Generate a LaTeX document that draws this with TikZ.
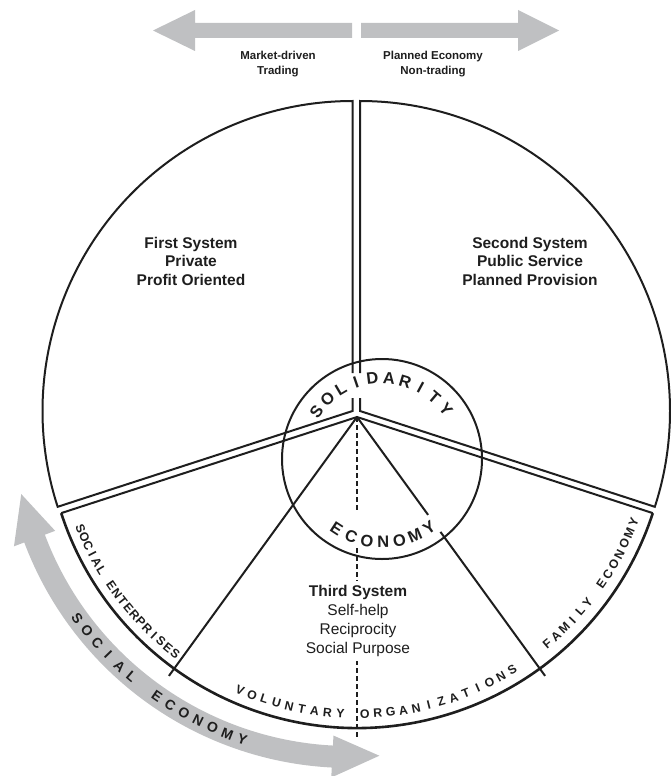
\documentclass[tikz,border=0pt]{standalone}
\usepackage{fontspec}
\setmainfont{Liberation Sans}
\usetikzlibrary{calc}
\definecolor{arrowgray}{RGB}{191,192,194}
\definecolor{ink}{RGB}{30,30,30}
\begin{document}
\begin{tikzpicture}[x=1pt,y=1pt,
  wedge/.style={draw=ink, line width=2pt, line join=miter},
  dashline/.style={draw=ink, line width=1.6pt, dash pattern=on 5pt off 3pt},
  arcletter/.style={inner sep=0pt, text=ink, font=\bfseries\fontsize{16.5}{16.5}\selectfont},
  rimletter/.style={inner sep=0pt, text=ink, font=\bfseries\fontsize{12.3}{12.3}\selectfont},
  grayletter/.style={inner sep=0pt, text=ink, font=\bfseries\fontsize{14}{14}\selectfont},
  syslabel/.style={align=center, text=ink, inner sep=0pt, font=\bfseries\fontsize{15.5}{18.5}\selectfont},
  toplabel/.style={align=center, text=ink, inner sep=0pt, font=\bfseries\fontsize{11.5}{15}\selectfont},
  grayarrow/.style={fill=arrowgray}
]
\useasboundingbox (0,0) rectangle (671,-776);

\coordinate (A1) at (352.5,-411);
\coordinate (A2) at (360,-411);
\coordinate (A3) at (357,-417);
\coordinate (C) at (382,-459);
\coordinate (G) at (350,-420);

% top arrows
\path[grayarrow] (352,-23) -- (195,-23) -- (195,-10) -- (153,-30.5) -- (195,-51) -- (195,-38) -- (352,-38) -- cycle;
\path[grayarrow] (361,-23) -- (518,-23) -- (518,-10) -- (559,-30.5) -- (518,-51) -- (518,-38) -- (361,-38) -- cycle;

% curved social economy arrow
\path[grayarrow] ($(G)+(200.6:315)$) -- ($(G)+(192.7:337)$) -- ($(G)+(200.6:359)$) -- ($(G)+(200.6:348)$)
  arc[start angle=200.6, end angle=267, radius=348] -- ($(G)+(267:358)$) -- ($(G)+(275:337)$) -- ($(G)+(267:316)$)
  -- ($(G)+(267:326)$) arc[start angle=267, end angle=200.6, radius=326] -- cycle;

% wedges
\draw[wedge] (352.5,-373) -- (352.5,-101) arc[start angle=90,end angle=198,radius=310] -- (A1) -- (352.5,-398);
\draw[wedge] (360,-373) -- (360,-101) arc[start angle=90,end angle=-18,radius=310] -- (A2) -- (360,-398);
\draw[wedge] ($(A3)+(342:311)$) -- (A3) -- ($(A3)+(198:311)$);
\draw[wedge, line width=2.6pt] ($(A3)+(198:311)$) arc[start angle=198, end angle=342, radius=311];

% inner divisions
\draw[wedge] (A3) -- ($(A3)+(234:320)$);
\draw[wedge] (A3) -- ($(A3)+(306:121)$);
\draw[wedge] ($(A3)+(306:142)$) -- ($(A3)+(306:320)$);
\draw[dashline] (A3) -- (357,-510);
\draw[dashline] (357,-548) -- (357,-737);

% inner circle
\draw[wedge] (C) circle[radius=100];

% SOLIDARITY
\foreach \ch [count=\i from 0] in {S,O,L,I,D,A,R,I,T,Y} {
  \pgfmathsetmacro\a{144.1-\i*11.8}
  \node[arcletter, rotate=\a-90] at ($(C)+(\a:81)$) {\ch};
}
% ECONOMY
\foreach \ch [count=\i from 0] in {E,C,O,N,O,M,Y} {
  \pgfmathsetmacro\a{236.9+\i*11.3}
  \node[arcletter, rotate=\a+90] at ($(C)+(\a:83)$) {\ch};
}

% rim texts
\foreach \ch [count=\i from 0] in {S,O,C,I,A,L,{},E,N,T,E,R,P,R,I,S,E,S} {
  \pgfmathsetmacro\a{202+\i*1.79}
  \node[rimletter, rotate=\a+90] at ($(A3)+(\a:298)$) {\ch};
}
\foreach \ch [count=\i from 0] in {V,O,L,U,N,T,A,R,Y} {
  \pgfmathsetmacro\a{246.8+\i*2.5}
  \node[rimletter, rotate=\a+90] at ($(A3)+(\a:297)$) {\ch};
}
\foreach \ch [count=\i from 0] in {O,R,G,A,N,I,Z,A,T,I,O,N,S} {
  \pgfmathsetmacro\a{271.5+\i*2.5}
  \node[rimletter, rotate=\a+90] at ($(A3)+(\a:297)$) {\ch};
}
\foreach \ch [count=\i from 0] in {F,A,M,I,L,Y,{},E,C,O,N,O,M,Y} {
  \pgfmathsetmacro\a{310+\i*2.24}
  \node[rimletter, rotate=\a+90] at ($(A3)+(\a:296)$) {\ch};
}
\foreach \ch [count=\i from 0] in {S,O,C,I,A,L,{},E,C,O,N,O,M,Y} {
  \pgfmathsetmacro\a{216+\i*2.72}
  \node[grayletter, rotate=\a+90] at ($(G)+(\a:337)$) {\ch};
}

% labels
\node[toplabel] (mk) at (278,-64.5) {Market-driven\\Trading};
\node[toplabel] (pl) at (433,-64.5) {Planned Economy\\Non-trading};
\node[syslabel] (s1) at (191,-261) {First System\\Private\\Profit Oriented};
\node[syslabel] (s2) at (530,-261) {Second System\\Public Service\\Planned Provision};
\node[syslabel, fill=white, inner ysep=5pt, inner xsep=2pt, font=\fontsize{15.5}{18.7}\selectfont] (s3) at (358,-621) {\textbf{Third System}\\Self-help\\Reciprocity\\Social Purpose};
\end{tikzpicture}
\end{document}
